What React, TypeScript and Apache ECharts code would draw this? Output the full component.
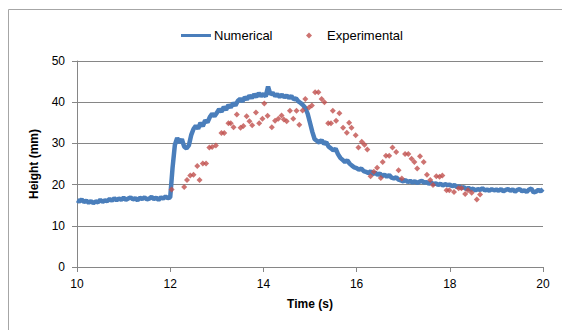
import React, { useEffect, useRef } from "react";
import * as echarts from "echarts";

// Numerical model: heights (mm) sampled every 0.05 s from 10.00 s to 20.00 s
const numStart = 10;
const numStep = 0.05;
const numHeight = [
  // 10.00 - 10.95
  16.2, 15.9, 16.4, 15.8, 16.1, 15.6, 16.0, 15.5, 15.9, 15.7, 16.3, 15.8, 16.2, 16.0, 16.5, 16.1, 16.7, 16.2, 16.6, 16.3,
  // 11.00 - 11.95
  16.8, 16.3, 16.6, 16.9, 16.4, 16.7, 16.2, 16.8, 16.5, 16.9, 16.4, 16.6, 17.0, 16.5, 16.8, 16.3, 16.9, 16.6, 17.1, 16.7,
  // 12.00 - 12.95
  16.9, 24.0, 29.6, 31.3, 30.2, 31.0, 29.2, 28.8, 29.5, 32.0, 33.5, 34.3, 33.6, 35.0, 34.2, 35.6, 35.1, 36.4, 37.2, 36.6,
  // 13.00 - 13.95
  37.4, 38.3, 37.7, 38.8, 38.2, 39.3, 38.7, 39.8, 39.2, 40.3, 40.8, 40.2, 41.2, 40.7, 41.6, 41.0, 41.9, 41.3, 42.2, 41.5,
  // 14.00 - 14.95
  42.0, 41.4, 43.8, 41.9, 42.3, 41.5, 41.9, 41.3, 41.8, 41.2, 41.6, 41.0, 41.5, 40.7, 40.9, 40.2, 39.8, 39.3, 38.6, 37.2,
  // 15.00 - 15.95
  35.0, 32.8, 31.0, 30.6, 30.2, 30.8, 29.9, 30.3, 29.2, 28.8, 28.3, 28.7, 27.4, 26.5, 26.0, 25.5, 25.9, 25.1, 24.6, 24.2,
  // 16.00 - 16.95
  24.0, 23.6, 23.9, 23.3, 23.1, 22.8, 23.2, 22.6, 22.9, 22.4, 22.7, 22.1, 22.4, 21.9, 22.3, 21.7, 21.5, 21.8, 21.2, 21.0,
  // 17.00 - 17.95
  20.8, 21.1, 20.6, 20.9, 20.5, 20.8, 20.4, 20.7, 20.9, 20.5, 20.6, 20.2, 20.5, 20.1, 20.3, 19.9, 20.2, 19.8, 20.1, 19.9,
  // 18.00 - 18.95
  20.0, 19.6, 19.9, 19.4, 19.6, 19.2, 19.4, 18.9, 19.2, 18.8, 19.0, 18.6, 18.9, 18.7, 19.1, 18.6, 18.8, 18.5, 18.9, 18.6,
  // 19.00 - 20.00
  18.8, 18.5, 18.9, 18.4, 18.7, 18.9, 18.5, 18.8, 18.3, 18.7, 18.9, 18.4, 18.6, 18.2, 18.8, 19.0, 18.1, 18.3, 18.7, 18.4, 18.9,
];

// Experimental measurements
const expTime = [
  12.03, 12.30, 12.36, 12.43, 12.50, 12.58, 12.63, 12.70, 12.77, 12.84, 12.90, 12.98,
  13.10, 13.16, 13.25, 13.30, 13.36, 13.43, 13.51, 13.57, 13.64, 13.70, 13.76, 13.84, 13.91, 13.98,
  14.02, 14.09, 14.18, 14.25, 14.32, 14.39, 14.44, 14.50, 14.57, 14.64, 14.71, 14.77, 14.84, 14.90, 14.98,
  15.04, 15.11, 15.18, 15.25, 15.31, 15.39, 15.45, 15.49, 15.56, 15.63, 15.71, 15.79, 15.84, 15.89, 15.98,
  16.04, 16.11, 16.17, 16.23, 16.30, 16.37, 16.44, 16.52, 16.56, 16.63, 16.70, 16.77, 16.85, 16.90, 16.97,
  17.04, 17.11, 17.18, 17.24, 17.30, 17.36, 17.44, 17.51, 17.58, 17.64, 17.71, 17.78, 17.84, 17.93, 17.99,
  18.09, 18.19, 18.25, 18.33, 18.39, 18.47, 18.58, 18.65,
];
const expHeight = [
  18.8, 19.4, 21.1, 22.2, 22.4, 24.5, 21.1, 25.1, 25.1, 29.0, 29.1, 29.5,
  32.5, 32.5, 34.9, 34.9, 33.9, 37.0, 33.8, 34.2, 36.6, 35.4, 34.4, 37.5, 34.9, 36.0,
  39.7, 36.7, 33.9, 35.5, 36.0, 36.8, 35.8, 35.4, 37.9, 36.0, 37.9, 34.5, 38.0, 40.8, 38.7,
  39.2, 42.4, 42.4, 40.8, 40.0, 34.9, 34.9, 37.9, 35.5, 37.3, 33.8, 32.6, 35.0, 33.8, 32.0,
  29.0, 30.4, 29.7, 28.5, 22.0, 23.1, 24.1, 21.6, 25.5, 27.0, 27.0, 29.0, 27.9, 23.5, 21.5,
  27.4, 27.4, 26.3, 25.5, 23.9, 26.9, 25.5, 22.4, 21.1, 19.9, 22.0, 21.9, 22.2, 18.6, 18.6,
  18.2, 19.1, 19.1, 17.7, 18.6, 18.0, 16.4, 17.6,
];

const xTicks = { min: 10, max: 20, interval: 2 };
const yTicks = { min: 0, max: 50, interval: 10 };

export default function App() {
  const ref = useRef<HTMLDivElement>(null);
  useEffect(() => {
    if (!ref.current) return;
    const chart = echarts.init(ref.current, undefined, { renderer: "svg" });
    const numData = numHeight.map((h, i) => [+(numStart + i * numStep).toFixed(2), h]);
    const expData = expTime.map((t, i) => [t, expHeight[i]]);
    const font = "Liberation Sans, Arial, sans-serif";
    chart.setOption({
      animation: false,
      backgroundColor: "#ffffff",
      textStyle: { fontFamily: font },
      graphic: [
        {
          type: "rect",
          shape: { x: 8.5, y: 9.5, width: 700, height: 500 },
          style: { fill: "none", stroke: "#a6a6a6", lineWidth: 1 },
          silent: true,
        },
      ],
      legend: [
        {
          data: [{ name: "Numerical", icon: "rect" }],
          left: 176,
          top: 24,
          itemWidth: 30,
          itemHeight: 3,
          itemGap: 0,
          selectedMode: false,
          textStyle: { fontSize: 13, color: "#000", fontFamily: font, padding: [0, 0, 0, -2] },
        },
        {
          data: [{ name: "Experimental", icon: "diamond" }],
          left: 301,
          top: 24,
          itemWidth: 6,
          itemHeight: 6,
          selectedMode: false,
          textStyle: { fontSize: 13, color: "#000", fontFamily: font, padding: [0, 0, 0, 10] },
        },
      ],
      grid: { left: 77, right: 19, top: 61, bottom: 63, containLabel: false },
      xAxis: {
        type: "value",
        min: xTicks.min,
        max: xTicks.max,
        interval: xTicks.interval,
        name: "Time (s)",
        nameLocation: "middle",
        nameGap: 31,
        nameTextStyle: { fontWeight: "bold", fontSize: 12, color: "#000", fontFamily: font },
        axisLine: { show: true, onZero: false, lineStyle: { color: "#868686", width: 1 } },
        axisTick: { show: true, inside: false, length: 5, lineStyle: { color: "#868686" } },
        axisLabel: { fontSize: 12, color: "#000", margin: 11, fontFamily: font },
        splitLine: { show: false },
      },
      yAxis: {
        type: "value",
        min: yTicks.min,
        max: yTicks.max,
        interval: yTicks.interval,
        name: "Height (mm)",
        nameLocation: "middle",
        nameGap: 37,
        nameRotate: 90,
        nameTextStyle: { fontWeight: "bold", fontSize: 12, color: "#000", fontFamily: font },
        axisLine: { show: true, lineStyle: { color: "#868686", width: 1 } },
        axisTick: { show: true, inside: false, length: 5, lineStyle: { color: "#868686" } },
        axisLabel: { fontSize: 12, color: "#000", margin: 12, fontFamily: font },
        splitLine: { show: true, lineStyle: { color: "#868686", width: 1 } },
      },
      series: [
        {
          name: "Numerical",
          type: "line",
          data: numData,
          showSymbol: false,
          symbol: "none",
          color: "#4a7ebb",
          lineStyle: { color: "#4a7ebb", width: 4.5, join: "bevel" },
          z: 2,
        },
        {
          name: "Experimental",
          type: "scatter",
          data: expData,
          symbol: "diamond",
          symbolSize: 6,
          color: "#c0504d",
          itemStyle: { color: "#c0504d" },
          z: 3,
        },
      ],
    });
    return () => chart.dispose();
  }, []);
  return (
    <div
      ref={ref}
      style={{ position: "absolute", left: 0, top: 0, width: 562, height: 330 }}
    />
  );
}
